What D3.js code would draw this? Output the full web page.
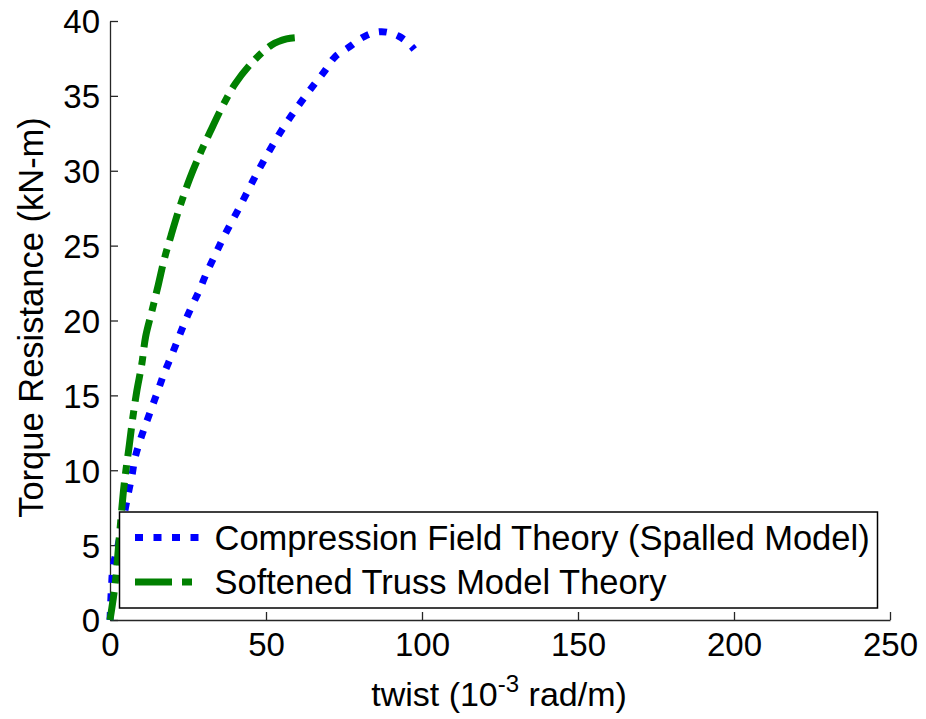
<!DOCTYPE html>
<html>
<head>
<meta charset="utf-8">
<script src="https://cdn.jsdelivr.net/npm/d3@7"></script>
<style>
  body { margin: 0; background: #fff; }
  text { font-family: Arial, "Liberation Sans", sans-serif; fill: #000; }
</style>
</head>
<body>
<div id="chart"></div>
<script>
// Variables
var width = 926;
var height = 719;
var margin = {top: 21, right: 36, bottom: 99, left: 110};

// Data: twist (10^-3 rad/m) vs torque (kN-m)
var cftTwist = [0, 0.5, 1, 2.7, 4.3, 5.9, 7, 8, 9.6, 11.5, 13.6, 15.5, 17.4, 19.6, 21.7, 23.8,
  26.2, 28.6, 31, 33.4, 35.8, 38.5, 41.1, 43.8, 46.5, 49.1, 52.1, 55, 58.2, 61.6, 65.2,
  68.6, 72.1, 76.6, 81.5, 86.9, 92.4, 96.2, 97.5];
var cftTorque = [0, 2.3, 3.6, 5.1, 6.8, 8.5, 9.6, 10.8, 11.95, 13.1, 14.3, 15.4, 16.5, 17.6, 18.7, 19.8,
  20.95, 22.0, 23.2, 24.25, 25.3, 26.4, 27.4, 28.5, 29.6, 30.6, 31.7, 32.7, 33.7, 34.7, 35.7,
  36.6, 37.6, 38.25, 38.96, 39.29, 39.0, 38.4, 38.1];

var stmTwist = [0, 1.6, 2.9, 4.3, 5.1, 6.2, 7.3, 8.6, 10.2, 11.4, 13.4, 15.5, 17.4, 19.6, 22.4,
  25.6, 29.0, 32.1, 35.8, 40.1, 45.4, 51.8, 56.6, 60.2, 62];
var stmTorque = [0, 2.3, 5.3, 8.6, 10, 11.7, 13.5, 15.3, 17.1, 18.9, 20.6, 22.4, 24.1, 25.7, 27.6,
  29.5, 31.2, 32.6, 34.2, 35.8, 37.2, 38.4, 38.8, 38.9, 38.9];

var seriesNames = ['Compression Field Theory (Spalled Model)', 'Softened Truss Model Theory'];
var seriesColors = ['#0000ff', '#008000'];
var seriesDash = ['8,10.5', '28,9,9,9'];
var legendDash = ['8,10.5', '37,10,10,10'];

var xTicks = [0, 50, 100, 150, 200, 250];
var yTicks = [0, 5, 10, 15, 20, 25, 30, 35, 40];

var svg = d3.select('#chart').append('svg')
    .attr('width', width)
    .attr('height', height);

var x = d3.scaleLinear().domain([0, 250]).range([margin.left, width - margin.right]);
var y = d3.scaleLinear().domain([0, 40]).range([height - margin.bottom, margin.top]);

// axes, MATLAB style: ticks point inwards, no box
var xAxis = svg.append('g')
    .attr('transform', 'translate(0,' + y(0) + ')')
    .call(d3.axisBottom(x).tickValues(xTicks).tickSizeInner(-8).tickSizeOuter(0).tickPadding(13));
var yAxis = svg.append('g')
    .attr('transform', 'translate(' + x(0) + ',0)')
    .call(d3.axisLeft(y).tickValues(yTicks).tickSizeInner(-8).tickSizeOuter(0).tickPadding(10));

[xAxis, yAxis].forEach(function(a) {
  a.select('.domain').attr('stroke', '#262626').attr('stroke-width', 1.3);
  a.selectAll('.tick line').attr('stroke', '#262626').attr('stroke-width', 1.3);
  a.selectAll('.tick text').style('font-size', '33px').attr('fill', '#000');
});
yAxis.selectAll('.tick text').attr('dy', '0.36em');

// the two curves
var line = d3.line()
    .x(function(d) { return x(d[0]); })
    .y(function(d) { return y(d[1]); })
    .curve(d3.curveCatmullRom);

var series = [d3.zip(cftTwist, cftTorque), d3.zip(stmTwist, stmTorque)];

svg.selectAll('path.curve')
    .data(series)
    .enter().append('path')
    .attr('class', 'curve')
    .attr('d', line)
    .attr('fill', 'none')
    .attr('stroke', function(d, i) { return seriesColors[i]; })
    .attr('stroke-width', 7)
    .attr('stroke-dasharray', function(d, i) { return seriesDash[i]; });

// axis titles
svg.append('text')
    .attr('x', 499)
    .attr('y', 706)
    .attr('text-anchor', 'middle')
    .style('font-size', '34px')
    .call(function(t) {
      t.append('tspan').text('twist (10');
      t.append('tspan').attr('dy', -14).style('font-size', '24px').text('-3');
      t.append('tspan').attr('dy', 14).text(' rad/m)');
    });

svg.append('text')
    .attr('transform', 'translate(43,' + ((y(0) + y(40)) / 2 - 3) + ')rotate(-90)')
    .attr('text-anchor', 'middle')
    .style('font-size', '34.5px')
    .text('Torque Resistance (kN-m)');

// legend
var legend = svg.append('g').attr('transform', 'translate(119.5,512)');
legend.append('rect')
    .attr('width', 758)
    .attr('height', 96)
    .attr('fill', '#fff')
    .attr('stroke', '#000')
    .attr('stroke-width', 1.5);

var items = legend.selectAll('g.item')
    .data(seriesNames)
    .enter().append('g')
    .attr('class', 'item')
    .attr('transform', function(d, i) { return 'translate(0,' + (25.5 + i * 44.5) + ')'; });

items.append('line')
    .attr('x1', 15.5)
    .attr('x2', 80)
    .attr('stroke', function(d, i) { return seriesColors[i]; })
    .attr('stroke-width', 7)
    .attr('stroke-dasharray', function(d, i) { return legendDash[i]; });

items.append('text')
    .attr('x', 95)
    .attr('dy', '0.36em')
    .style('font-size', '34.5px')
    .text(function(d) { return d; });
</script>
</body>
</html>
